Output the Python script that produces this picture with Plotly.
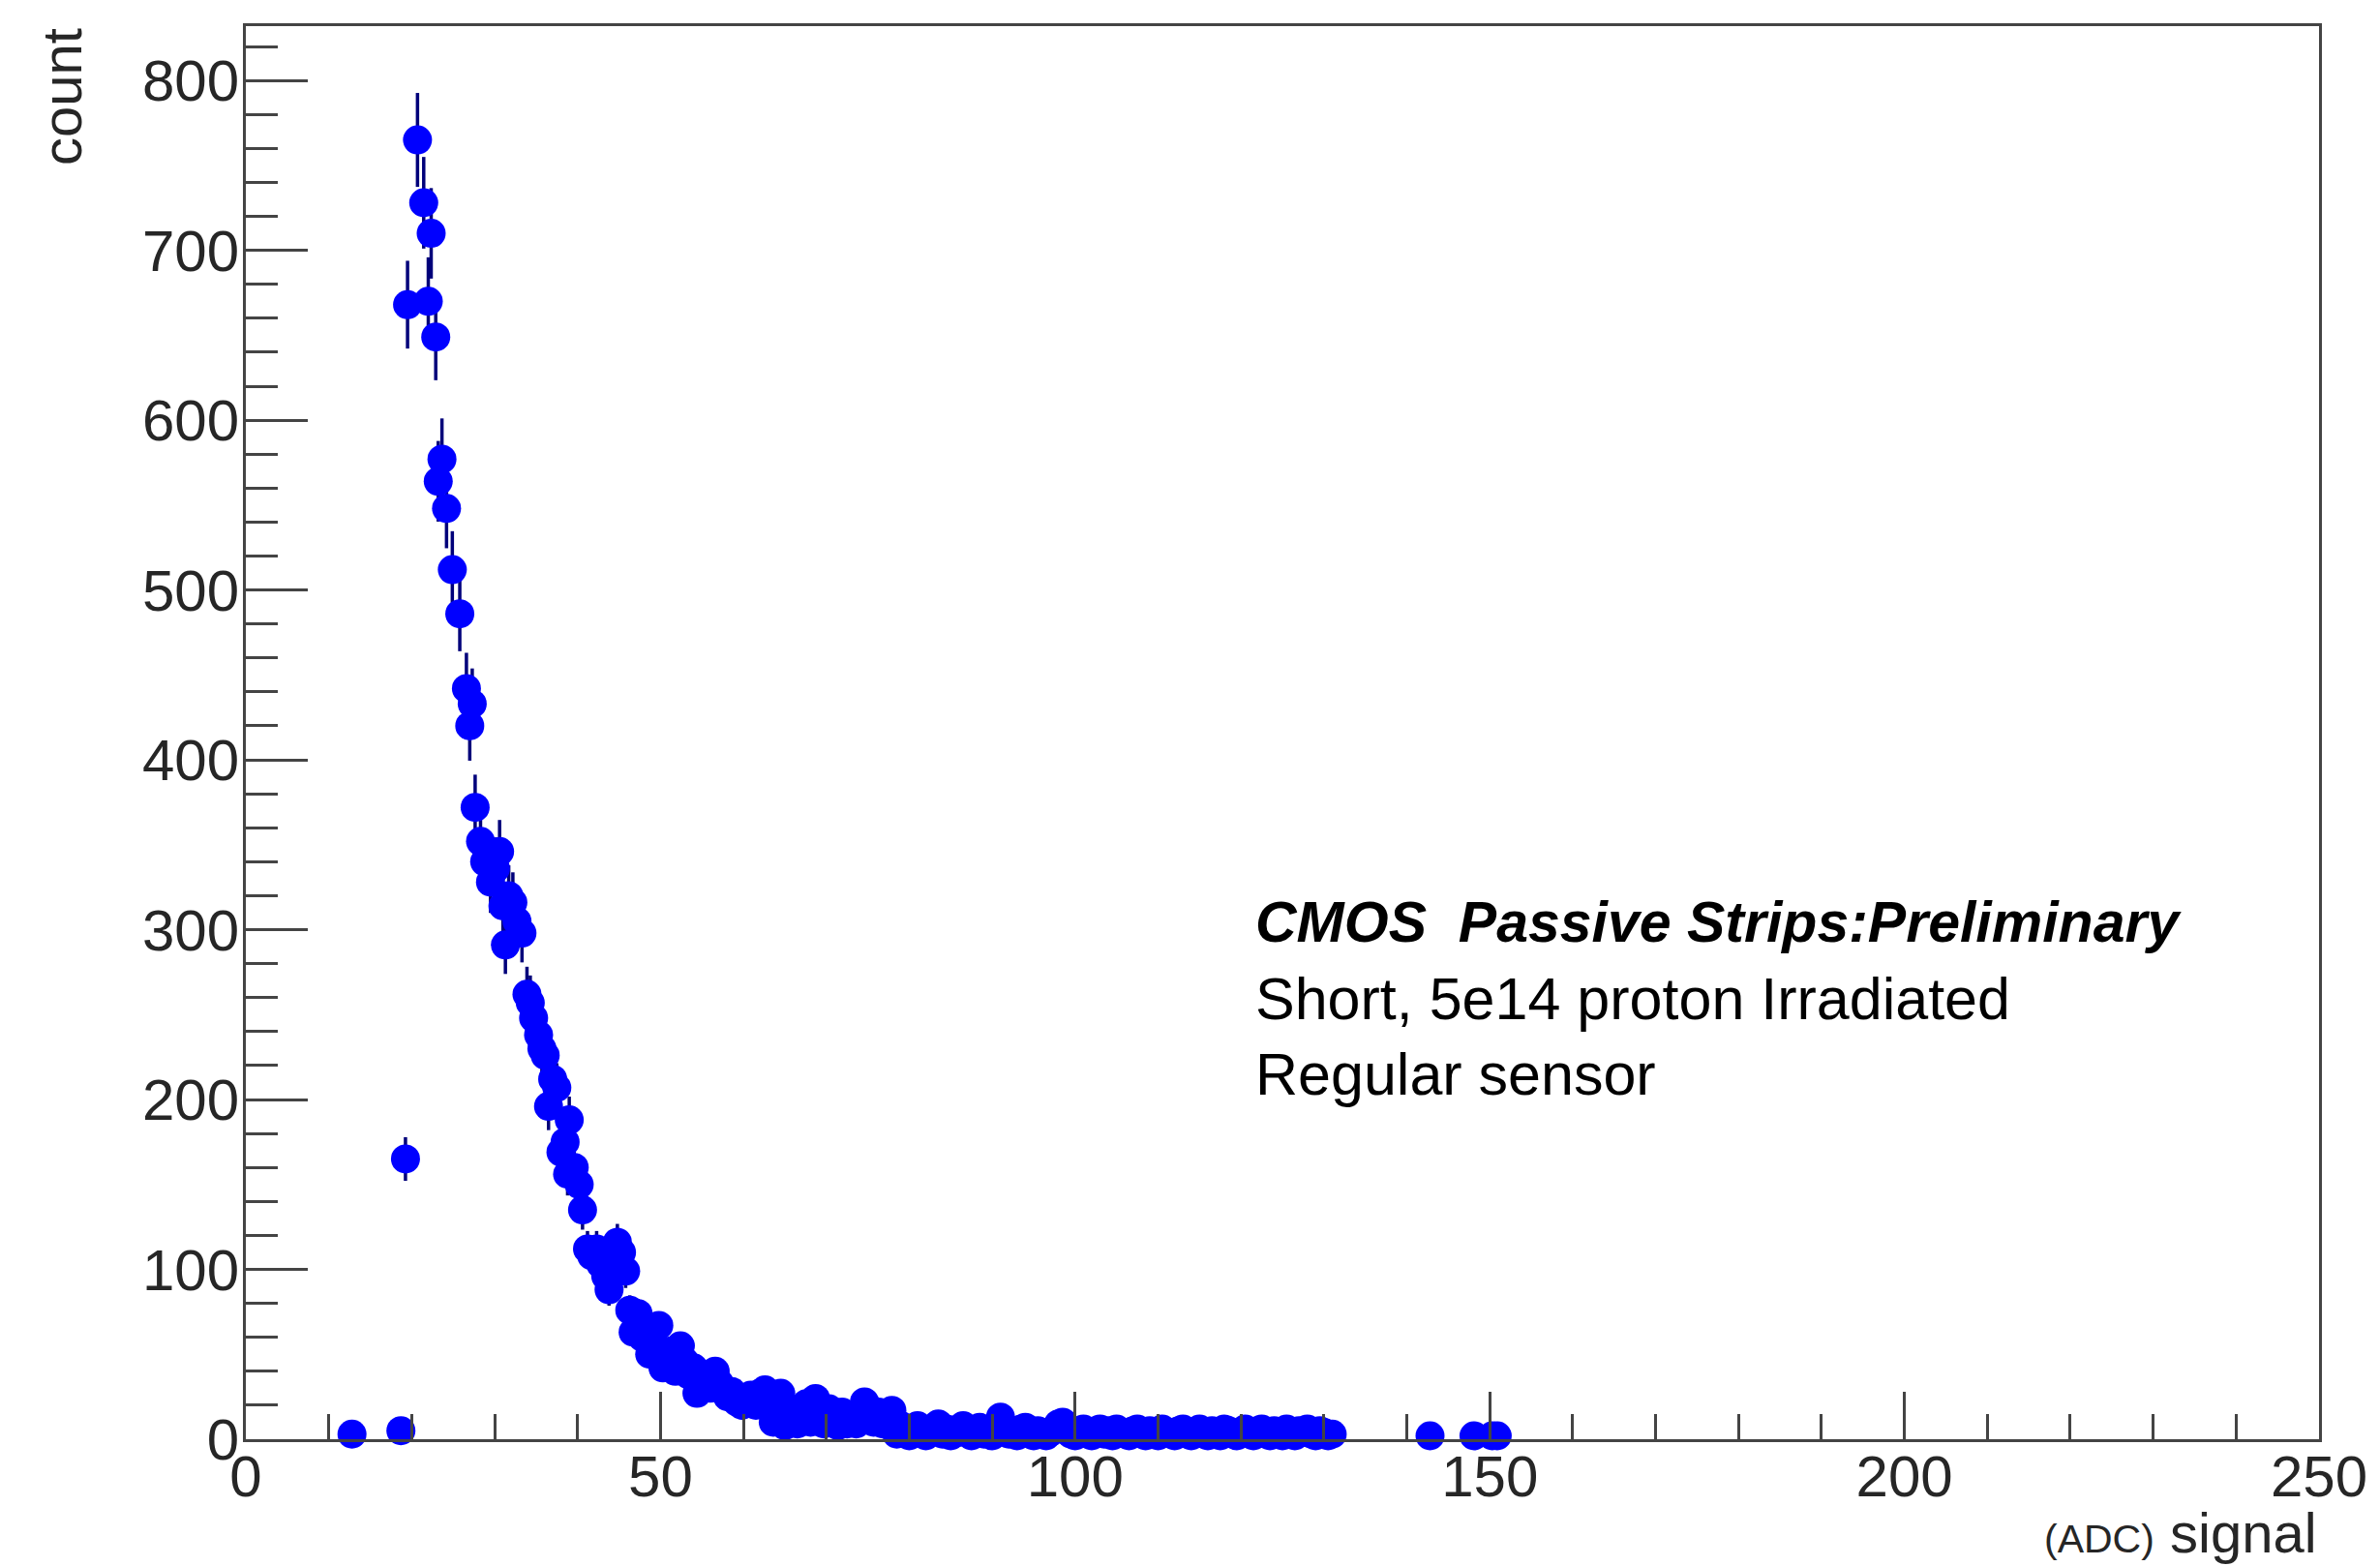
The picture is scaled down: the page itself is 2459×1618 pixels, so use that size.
import math
import plotly.graph_objects as go

# Signal spectrum: (ADC) signal value and entries per bin
signal = [
    12.8, 18.7, 19.25, 19.5, 20.7, 21.45, 22.0, 22.35, 22.9, 23.2, 23.65, 24.2,
    24.9, 25.8, 26.6, 27.0, 27.3, 27.65, 28.3, 28.8, 29.5, 30.1, 30.6, 31.0,
    31.3, 31.7, 32.2, 32.7, 33.3, 33.9, 34.3, 34.7, 35.3, 35.7, 36.1, 36.5,
    37.0, 37.5, 38.0, 38.5, 38.8, 39.0, 39.6, 40.2, 40.6, 41.2, 41.7, 42.3,
    42.8, 43.4, 43.8, 44.3, 44.8, 45.3, 45.8, 46.3, 46.7, 47.3, 47.8, 48.3,
    48.7, 49.3, 49.8, 50.3, 50.8, 51.3, 51.8, 52.4, 52.9, 53.4, 54.0, 54.4,
    54.9, 55.4, 56.0, 56.6, 57.1, 57.5, 58.1, 58.6, 59.2, 59.8, 60.4, 60.9,
    61.5, 62.0, 62.6, 63.1, 63.6, 64.1, 64.5, 65.0, 65.5, 66.0, 66.5, 67.0,
    67.6, 68.1, 68.7, 69.2, 69.7, 70.3, 70.8, 71.4, 71.9, 72.5, 73.0, 73.6,
    74.1, 74.6, 75.2, 75.7, 76.3, 76.8, 77.4, 77.9,
    78.5, 79.0, 79.5, 80.0, 80.5, 81.0, 81.5, 82.0, 82.5, 83.0, 83.5, 84.0,
    84.5, 85.0, 85.5, 86.0, 86.5, 87.0, 87.5, 88.0, 88.5, 89.0, 89.5, 90.0,
    90.5, 91.0, 91.5, 92.0, 92.5, 93.0, 93.5, 94.0, 94.5, 95.0, 95.5, 96.0,
    96.5, 97.0, 97.5, 98.0, 98.5, 99.0, 99.5, 100.0, 100.5, 101.0, 101.5, 102.0,
    102.5, 103.0, 103.5, 104.0, 104.5, 105.0, 105.5, 106.0, 106.5, 107.0, 107.5, 108.0,
    108.5, 109.0, 109.5, 110.0, 110.5, 111.0, 111.5, 112.0, 112.5, 113.0, 113.5, 114.0,
    114.5, 115.0, 115.5, 116.0, 116.5, 117.0, 117.5, 118.0, 118.5, 119.0, 119.5, 120.0,
    120.5, 121.0, 121.5, 122.0, 122.5, 123.0, 123.5, 124.0, 124.5, 125.0, 125.5, 126.0,
    126.5, 127.0, 127.5, 128.0, 128.5, 129.0, 129.5, 130.0, 130.5, 131.0,
    142.8, 148.1, 150.3, 150.9,
]
count = [
    3, 5, 165, 668, 765, 728, 670, 710, 649, 564, 577, 548,
    512, 486, 442, 420, 433, 372, 352, 340, 328, 336, 346, 314,
    291, 320, 316, 305, 298, 262, 257, 248, 238, 230, 226, 196,
    212, 207, 169, 175, 156, 188, 160, 150, 135, 112, 108, 112,
    103, 96, 88, 106, 116, 110, 99, 76, 63, 74, 60, 65,
    50, 55, 67, 42, 48, 52, 40, 55, 46, 38, 42, 27,
    35, 38, 30, 40, 33, 30, 25, 28, 22, 20, 23, 26,
    20, 27, 29, 22, 10, 20, 27, 8, 12, 16, 9, 18,
    21, 10, 24, 14, 9, 18, 12, 8, 16, 9, 13, 9,
    15, 22, 18, 10, 16, 9, 13, 17,
    3, 8, 4, 2, 6, 8, 4, 2, 6, 5, 9, 3,
    6, 2, 5, 4, 8, 5, 2, 4, 7, 3, 5, 2,
    8, 13, 6, 3, 5, 2, 6, 7, 3, 2, 5, 3,
    2, 4, 6, 9, 10, 5, 3, 2, 5, 6, 3, 2,
    5, 6, 3, 5, 2, 6, 4, 3, 2, 5, 6, 3,
    2, 5, 4, 2, 6, 4, 3, 2, 5, 6, 3, 2,
    4, 6, 3, 2, 5, 4, 2, 6, 5, 3, 2, 4,
    6, 3, 2, 5, 6, 3, 2, 5, 4, 2, 6, 3,
    2, 5, 4, 6, 3, 2, 5, 4, 2, 3,
    2, 2, 2, 2,
]
# Poisson uncertainty on each bin
count_err = [math.sqrt(c) for c in count]

x_range = [0, 250]
y_range = [0, 832]

W, H = 2459, 1618
ML, MR, MT, MB = 254, 63, 27, 131
plot_w = W - ML - MR
plot_h = H - MT - MB

AXIS_COLOR = "#444444"
LABEL_COLOR = "#262626"
FONT = "Liberation Sans, Arial, Helvetica, sans-serif"


def px_x(px):
    return (px - ML) / plot_w


def px_y(py):
    return (H - MB - py) / plot_h


fig = go.Figure()
fig.add_trace(
    go.Scatter(
        x=signal,
        y=count,
        mode="markers",
        cliponaxis=False,
        marker=dict(color="#0000ff", size=30, line=dict(width=0)),
        error_y=dict(
            type="data",
            array=count_err,
            color="#00007a",
            thickness=3.5,
            width=0,
        ),
        showlegend=False,
    )
)

axis_common = dict(
    showline=True,
    linecolor=AXIS_COLOR,
    linewidth=3,
    mirror=True,
    showgrid=False,
    zeroline=False,
    ticks="inside",
    tickcolor=AXIS_COLOR,
    tickwidth=3,
    tickfont=dict(family=FONT, size=60, color=LABEL_COLOR),
)

fig.update_xaxes(
    range=x_range,
    tick0=0,
    dtick=50,
    ticklen=49,
    minor=dict(dtick=10, ticklen=26, tickwidth=3, tickcolor=AXIS_COLOR, ticks="inside"),
    **axis_common,
)
fig.update_yaxes(
    range=y_range,
    tick0=0,
    dtick=100,
    ticklen=64,
    minor=dict(dtick=20, ticklen=33, tickwidth=3, tickcolor=AXIS_COLOR, ticks="inside"),
    **axis_common,
)

# pull the tick labels a little closer to the frame
try:
    fig.update_xaxes(ticklabelstandoff=-16)
    fig.update_yaxes(ticklabelstandoff=-8)
except ValueError:
    pass

annotations = [
    # y axis title, top-aligned and rotated
    dict(
        text="count",
        textangle=-90,
        xref="paper", yref="paper",
        x=px_x(63), y=px_y(27),
        xanchor="center", yanchor="top",
        showarrow=False,
        font=dict(family=FONT, size=58, color=LABEL_COLOR),
    ),
    # x axis title, right-aligned under the axis
    dict(
        text='<span style="font-size:41px">(ADC)</span> signal',
        xref="paper", yref="paper",
        x=1.0, y=px_y(H),
        xanchor="right", yanchor="bottom",
        showarrow=False,
        font=dict(family=FONT, size=58, color=LABEL_COLOR),
    ),
    dict(
        text="<b><i>CMOS\u00a0 Passive Strips:Preliminary</i></b>",
        xref="paper", yref="paper",
        x=px_x(1295), y=px_y(953),
        xanchor="left", yanchor="middle",
        showarrow=False,
        font=dict(family=FONT, size=59, color="#000000"),
    ),
    dict(
        text="Short, 5e14 proton Irradiated",
        xref="paper", yref="paper",
        x=px_x(1295), y=px_y(1032),
        xanchor="left", yanchor="middle",
        showarrow=False,
        font=dict(family=FONT, size=61, color="#000000"),
    ),
    dict(
        text="Regular sensor",
        xref="paper", yref="paper",
        x=px_x(1295), y=px_y(1110),
        xanchor="left", yanchor="middle",
        showarrow=False,
        font=dict(family=FONT, size=61, color="#000000"),
    ),
]

fig.update_layout(
    width=W,
    height=H,
    autosize=False,
    margin=dict(l=ML, r=MR, t=MT, b=MB, pad=0),
    paper_bgcolor="white",
    plot_bgcolor="white",
    annotations=annotations,
    showlegend=False,
)

fig.write_html("out.html")
